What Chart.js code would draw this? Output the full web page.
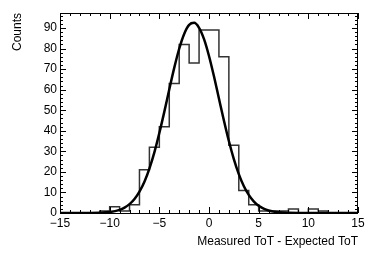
<!DOCTYPE html>
<html>
<head>
<meta charset="utf-8">
<script src="https://cdn.jsdelivr.net/npm/chart.js@4/dist/chart.umd.min.js"></script>
<style>
  html, body { margin: 0; padding: 0; background: #fff; }
  #wrap { width: 374px; height: 254px; }
</style>
</head>
<body>
<div id="wrap"><canvas id="histo" width="374" height="254"></canvas></div>
<script>
// histogram: 1 unit bins from -15 to 15
const binEdges = [-15, -14, -13, -12, -11, -10, -9, -8, -7, -6, -5, -4, -3, -2, -1, 0,
  1, 2, 3, 4, 5, 6, 7, 8, 9, 10, 11, 12, 13, 14, 15];
const counts = [0, 0, 0, 0, 1, 3, 1, 4, 21, 32, 42, 63, 82, 73, 89,
  89, 76, 33, 11, 4, 1, 1, 1, 2, 0, 2, 1, 0, 0, 0];

// gaussian fit curve
const fitX = [-15, -12, -11, -10, -9, -8.5, -8, -7.5, -7, -6.5, -6, -5.5, -5, -4.5, -4, -3.5,
  -3, -2.5, -2, -1.5, -1, -0.5, 0, 0.5, 1, 1.5, 2, 2.5, 3, 3.5, 4, 4.5, 5, 5.5, 6, 7, 8, 9, 15];
const fitY = [0, 0.03, 0.12, 0.46, 1.5, 2.6, 4.3, 6.8, 10.4, 15.2, 21.6, 29.5, 38.9, 49.2, 60.1, 70.6,
  79.9, 87.1, 91.5, 92.5, 90.1, 84.6, 76.4, 66.5, 55.7, 45.0, 35.0, 26.2, 18.9, 13.1, 8.8, 5.7, 3.5, 2.1, 1.2, 0.36, 0.09, 0.02, 0];

const xTicks = [-15, -10, -5, 0, 5, 10, 15];
const yTicks = [0, 10, 20, 30, 40, 50, 60, 70, 80, 90];

const fontFam = "'Liberation Sans', Arial, Helvetica, sans-serif";

var histPts = counts.map(function (c, i) { return {x: binEdges[i], y: c}; });
histPts.push({x: binEdges[binEdges.length - 1], y: counts[counts.length - 1]});
var fitPts = fitX.map(function (x, i) { return {x: x, y: fitY[i]}; });

function numLabel(v) {
  return v < 0 ? '\u2212' + Math.abs(v) : String(v);
}

// ROOT style frame with inner ticks on all four sides
const frameTicks = {
  id: 'frameTicks',
  afterDraw(chart) {
    const c = chart.ctx, a = chart.chartArea;
    const xs = chart.scales.x, ys = chart.scales.y;
    c.save();
    c.strokeStyle = '#000';
    c.lineWidth = 1;
    c.beginPath();
    for (let v = xs.min; v <= xs.max; v += 1) {
      const px = Math.round(xs.getPixelForValue(v)) + 0.5;
      const len = xTicks.indexOf(v) >= 0 ? 6 : 3;
      c.moveTo(px, a.bottom); c.lineTo(px, a.bottom - len);
      c.moveTo(px, a.top); c.lineTo(px, a.top + len);
    }
    for (let v = 0; v <= ys.max; v += 2) {
      const py = Math.round(ys.getPixelForValue(v)) + 0.5;
      const len = yTicks.indexOf(v) >= 0 ? 6 : 3;
      c.moveTo(a.left, py); c.lineTo(a.left + len, py);
      c.moveTo(a.right, py); c.lineTo(a.right - len, py);
    }
    c.stroke();
    c.strokeRect(Math.round(a.left) + 0.5, Math.round(a.top) + 0.5,
      Math.round(a.right - a.left) - 1, Math.round(a.bottom - a.top));
    c.restore();
  }
};

var ctx = document.getElementById('histo').getContext('2d');
var histoChart = new Chart(ctx, {
  type: 'scatter',
  data: {
    datasets: [{
      data: fitPts,
      showLine: true,
      borderColor: '#000',
      borderWidth: 2.5,
      pointRadius: 0,
      cubicInterpolationMode: 'monotone',
      fill: false,
      order: 0,
    }, {
      data: histPts,
      showLine: true,
      stepped: true,
      borderColor: '#333',
      borderWidth: 1.5,
      pointRadius: 0,
      fill: false,
      order: 1,
    }]
  },
  options: {
    responsive: false,
    animation: false,
    events: [],
    layout: {padding: {left: 0, right: 16, top: 13, bottom: 0}},
    plugins: {legend: {display: false}, tooltip: {enabled: false}},
    scales: {
      x: {
        type: 'linear',
        min: -15, max: 15,
        afterBuildTicks: function (s) { s.ticks = xTicks.map(function (v) { return {value: v}; }); },
        afterFit: function (s) { s.height = 41; },
        grid: {display: false, drawTicks: false},
        border: {display: false},
        ticks: {
          padding: 3,
          maxRotation: 0,
          color: '#000',
          font: {family: fontFam, size: 12},
          callback: numLabel,
        },
        title: {
          display: true,
          text: 'Measured ToT - Expected ToT',
          align: 'end',
          color: '#000',
          font: {family: fontFam, size: 12},
          padding: {top: 0, bottom: 5},
        }
      },
      y: {
        type: 'linear',
        min: 0, max: 97.3,
        afterBuildTicks: function (s) { s.ticks = yTicks.map(function (v) { return {value: v}; }); },
        afterFit: function (s) { s.width = 60; },
        grid: {display: false, drawTicks: false},
        border: {display: false},
        ticks: {
          padding: 3,
          color: '#000',
          font: {family: fontFam, size: 12},
          callback: numLabel,
        },
        title: {
          display: true,
          text: 'Counts',
          align: 'end',
          color: '#000',
          font: {family: fontFam, size: 12},
          padding: {top: 10, bottom: 0},
        }
      }
    }
  },
  plugins: [frameTicks]
});
</script>
</body>
</html>
